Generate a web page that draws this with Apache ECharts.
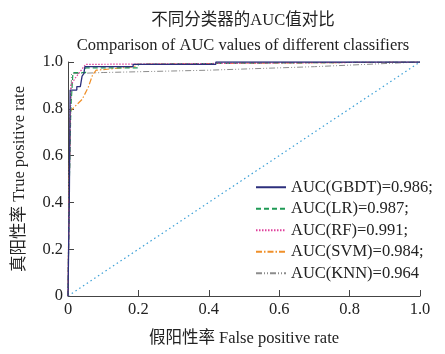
<!DOCTYPE html>
<html>
<head>
<meta charset="utf-8">
<script src="https://cdn.jsdelivr.net/npm/echarts@6/dist/echarts.min.js"></script>
<style>
	html, body { margin: 0; padding: 0; background: #fff; }
	#main { width: 445px; height: 354px; }
</style>
</head>
<body>
<div id="main"></div>
<script>
// 坐标刻度
var ticks = [0, 0.2, 0.4, 0.6, 0.8, 1.0];

// 各分类器 ROC 曲线 (FPR, TPR)
var gbdtFpr = [0, 0.004, 0.006, 0.025, 0.025, 0.035, 0.04, 0.045, 0.048, 0.185, 0.185, 0.42, 0.42, 1];
var gbdtTpr = [0, 0.45, 0.88, 0.88, 0.895, 0.895, 0.94, 0.95, 0.98, 0.98, 0.99, 0.99, 1, 1];

var lrFpr = [0, 0.004, 0.008, 0.014, 0.05, 0.05, 0.2, 0.2, 0.5, 1];
var lrTpr = [0, 0.5, 0.8, 0.955, 0.955, 0.975, 0.975, 0.99, 0.995, 1];

var rfFpr = [0, 0.004, 0.008, 0.02, 0.03, 0.04, 0.05, 0.07, 0.07, 1];
var rfTpr = [0, 0.55, 0.9, 0.93, 0.95, 0.97, 0.99, 0.99, 0.997, 1];

var svmFpr = [0, 0.003, 0.006, 0.04, 0.057, 0.07, 0.08, 0.19, 0.19, 0.5, 1];
var svmTpr = [0, 0.4, 0.79, 0.84, 0.89, 0.945, 0.965, 0.98, 0.99, 0.995, 1];

var knnFpr = [0, 0.004, 0.01, 0.1, 0.4, 0.7, 1];
var knnTpr = [0, 0.5, 0.95, 0.955, 0.965, 0.98, 1];

var diagFpr = [0, 1];
var diagTpr = [0, 1];

var names = ['AUC(GBDT)=0.986;', 'AUC(LR)=0.987;', 'AUC(RF)=0.991;', 'AUC(SVM)=0.984;', 'AUC(KNN)=0.964'];

function pairs(xs, ys) {
	var out = [];
	for (var i = 0; i < xs.length; i++) {
		out.push([xs[i], ys[i]]);
	}
	return out;
}

function fmt(v) {
	if (v === 0) return '0';
	return v.toFixed(1);
}

var font = '"Liberation Serif", "Noto Sans CJK SC", serif';
var fs = 16.5;

function curve(name, xs, ys, color, dash, width) {
	return {
		name: name,
		type: 'line',
		data: pairs(xs, ys),
		symbol: 'none',
		animation: false,
		lineStyle: {
			color: color,
			width: width || 1.2,
			type: dash
		},
		itemStyle: { color: color }
	};
}

var chart = echarts.init(document.getElementById('main'));

var option = {
	backgroundColor: '#fff',
	textStyle: { fontFamily: font },
	//标题 (以绘图区为中心)
	title: [{
		text: '不同分类器的AUC值对比',
		left: 238,
		textAlign: 'center',
		top: 7,
		textStyle: { fontFamily: font, fontSize: fs, fontWeight: 'normal', color: '#222' }
	}, {
		text: 'Comparison of AUC values of different classifiers',
		left: 238,
		textAlign: 'center',
		top: 32,
		textStyle: { fontFamily: font, fontSize: fs, fontWeight: 'normal', color: '#222' }
	}],
	//网格
	grid: {
		left: 68,
		right: 25,
		top: 62,
		bottom: 58,
		containLabel: false
	},
	//图例
	legend: {
		orient: 'vertical',
		left: 250,
		top: 174,
		itemWidth: 30,
		itemHeight: 14,
		itemGap: 5,
		data: names,
		itemStyle: { opacity: 0 },
		textStyle: { fontFamily: font, fontSize: fs, color: '#222' }
	},
	//x轴
	xAxis: {
		type: 'value',
		min: 0,
		max: 1,
		interval: 0.2,
		name: '假阳性率 False positive rate',
		nameLocation: 'middle',
		nameGap: 34,
		nameTextStyle: { fontFamily: font, fontSize: fs, color: '#222' },
		splitLine: { show: false },
		axisLine: { lineStyle: { color: '#444', width: 1 } },
		axisTick: { inside: true, length: 6, lineStyle: { color: '#444' } },
		axisLabel: {
			color: '#222',
			fontSize: fs,
			fontFamily: font,
			margin: 5,
			formatter: function (v) { return fmt(v); }
		}
	},
	//y轴
	yAxis: {
		type: 'value',
		min: 0,
		max: 1,
		interval: 0.2,
		name: '真阳性率 True positive rate',
		nameLocation: 'middle',
		nameGap: 40,
		nameTextStyle: { fontFamily: font, fontSize: fs, color: '#222' },
		splitLine: { show: false },
		axisLine: { show: true, lineStyle: { color: '#444', width: 1 } },
		axisTick: { show: true, inside: true, length: 6, lineStyle: { color: '#444' } },
		axisLabel: {
			color: '#222',
			fontSize: fs,
			fontFamily: font,
			margin: 5,
			formatter: function (v) { return fmt(v); }
		}
	},
	//系列列表
	series: [
		curve('diag', diagFpr, diagTpr, '#3a9fd6', [1.5, 3], 1.2),
		curve(names[4], knnFpr, knnTpr, '#8c8c8c', [6, 2, 1, 2, 1, 2], 1),
		curve(names[3], svmFpr, svmTpr, '#f0902a', [6, 2, 1.5, 2], 1.2),
		curve(names[1], lrFpr, lrTpr, '#1f9a55', [5, 3], 1.2),
		curve(names[2], rfFpr, rfTpr, '#e0409c', [1.5, 1.5], 1.2),
		curve(names[0], gbdtFpr, gbdtTpr, '#2c2f7c', 'solid', 1.3)
	]
};

chart.setOption(option);
</script>
</body>
</html>
